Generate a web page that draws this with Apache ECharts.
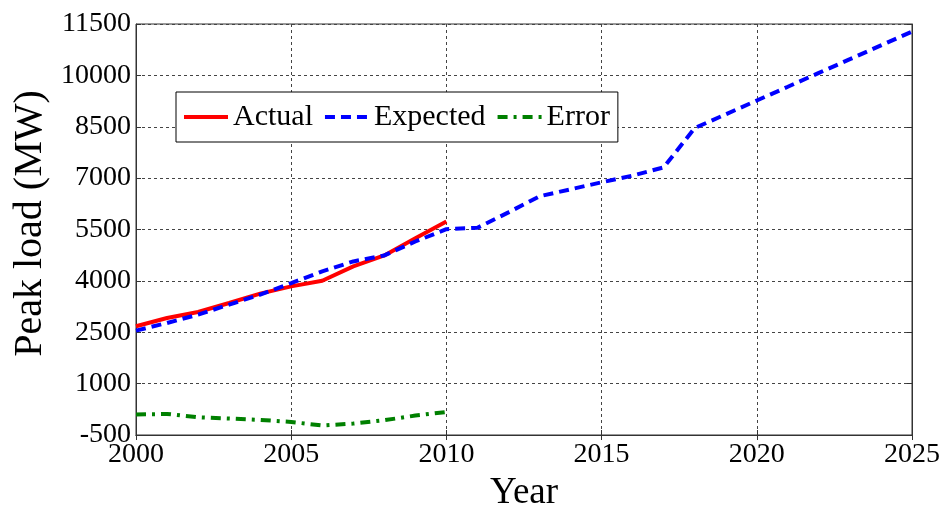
<!DOCTYPE html>
<html>
<head>
<meta charset="utf-8">
<script src="https://cdn.jsdelivr.net/npm/echarts@6/dist/echarts.min.js"></script>
<style>
html,body{margin:0;padding:0;background:#fff;}
#chart{width:945px;height:514px;}
</style>
</head>
<body>
<div id="chart"></div>
<script>
const years = [2000,2001,2002,2003,2004,2005,2006,2007,2008,2009,2010,2011,2012,2013,2014,2015,2016,2017,2018,2019,2020,2021,2022,2023,2024,2025];
const actual = [2675,2917,3091,3354,3627,3840,4005,4423,4743,5247,5733];
const expected = [2549,2771,3015,3306,3598,3936,4277,4568,4743,5150,5509,5550,6000,6470,6674,6878,7073,7315,8462,8864,9266,9668,10073,10473,10875,11277];
const errorVals = [97,115,18,-20,-60,-118,-224,-165,-69,68,173];
const yTicks = [-500,1000,2500,4000,5500,7000,8500,10000,11500];
const yOffset = 500; // shift so axis min (0) is a multiple of the 1500 interval

const font = 'Liberation Serif';
const pairs = (vals) => vals.map((v,i)=>[years[i], v + yOffset]);

const chart = echarts.init(document.getElementById('chart'));
const splitLine = {show:true, lineStyle:{color:'#444', width:1, type:[3,3]}};
chart.setOption({
  animation:false,
  backgroundColor:'#fff',
  grid:{left:136, right:33, top:24, bottom:79, outerBoundsMode:'none', containLabel:false,
    show:true, borderColor:'#333', borderWidth:1, backgroundColor:'transparent'},
  legend:{
    left:176, top:92,
    padding:[10,8,10,6],
    itemGap:10, itemWidth:44, itemHeight:14,
    backgroundColor:'#fff', borderColor:'#000', borderWidth:1,
    itemStyle:{opacity:0},
    lineStyle:{width:4},
    textStyle:{fontFamily:font, fontSize:30, color:'#000', padding:[0,0,0,0]},
    data:['Actual','Expected','Error']
  },
  xAxis:[{
    type:'value', min:2000, max:2025, interval:5,
    name:'Year', nameLocation:'middle', nameGap:40,
    nameTextStyle:{fontFamily:font, fontSize:37, color:'#000', verticalAlign:'top'},
    axisLine:{show:true, lineStyle:{color:'#333', width:1}},
    axisTick:{show:true, inside:true, length:5, lineStyle:{color:'#333'}},
    axisLabel:{fontFamily:font, fontSize:28, color:'#000', margin:6, formatter:(v)=>String(v)},
    splitLine:splitLine
  },{
    type:'value', min:2000, max:2025, interval:5, position:'top',
    axisLine:{show:true, lineStyle:{color:'#333', width:1}},
    axisTick:{show:true, inside:true, length:5, lineStyle:{color:'#333'}},
    axisLabel:{show:false}, splitLine:{show:false}
  }],
  yAxis:[{
    type:'value', min:0, max:12000, interval:1500,
    name:'Peak load (MW)', nameLocation:'middle', nameGap:86,
    nameTextStyle:{fontFamily:font, fontSize:40, color:'#000', padding:[0,0,0,12]},
    axisLine:{show:true, lineStyle:{color:'#333', width:1}},
    axisTick:{show:true, inside:true, length:5, lineStyle:{color:'#333'}},
    axisLabel:{fontFamily:font, fontSize:28, color:'#000', margin:5,
      formatter:(v)=>String(v - yOffset)},
    splitLine:splitLine
  },{
    type:'value', min:0, max:12000, interval:1500, position:'right',
    axisLine:{show:true, lineStyle:{color:'#333', width:1}},
    axisTick:{show:true, inside:true, length:5, lineStyle:{color:'#333'}},
    axisLabel:{show:false}, splitLine:{show:false}
  }],
  series:[
    {name:'Actual', type:'line', data:pairs(actual), symbol:'none', z:3,
      lineStyle:{color:'#ff0000', width:4}, itemStyle:{color:'#ff0000'}},
    {name:'Expected', type:'line', data:pairs(expected), symbol:'none', z:4,
      lineStyle:{color:'#0000ff', width:4, type:[10,6]}, itemStyle:{color:'#0000ff'}},
    {name:'Error', type:'line', data:pairs(errorVals), symbol:'none', z:3,
      lineStyle:{color:'#008000', width:4, type:[10,6,3,6]}, itemStyle:{color:'#008000'}}
  ]
});
</script>
</body>
</html>
